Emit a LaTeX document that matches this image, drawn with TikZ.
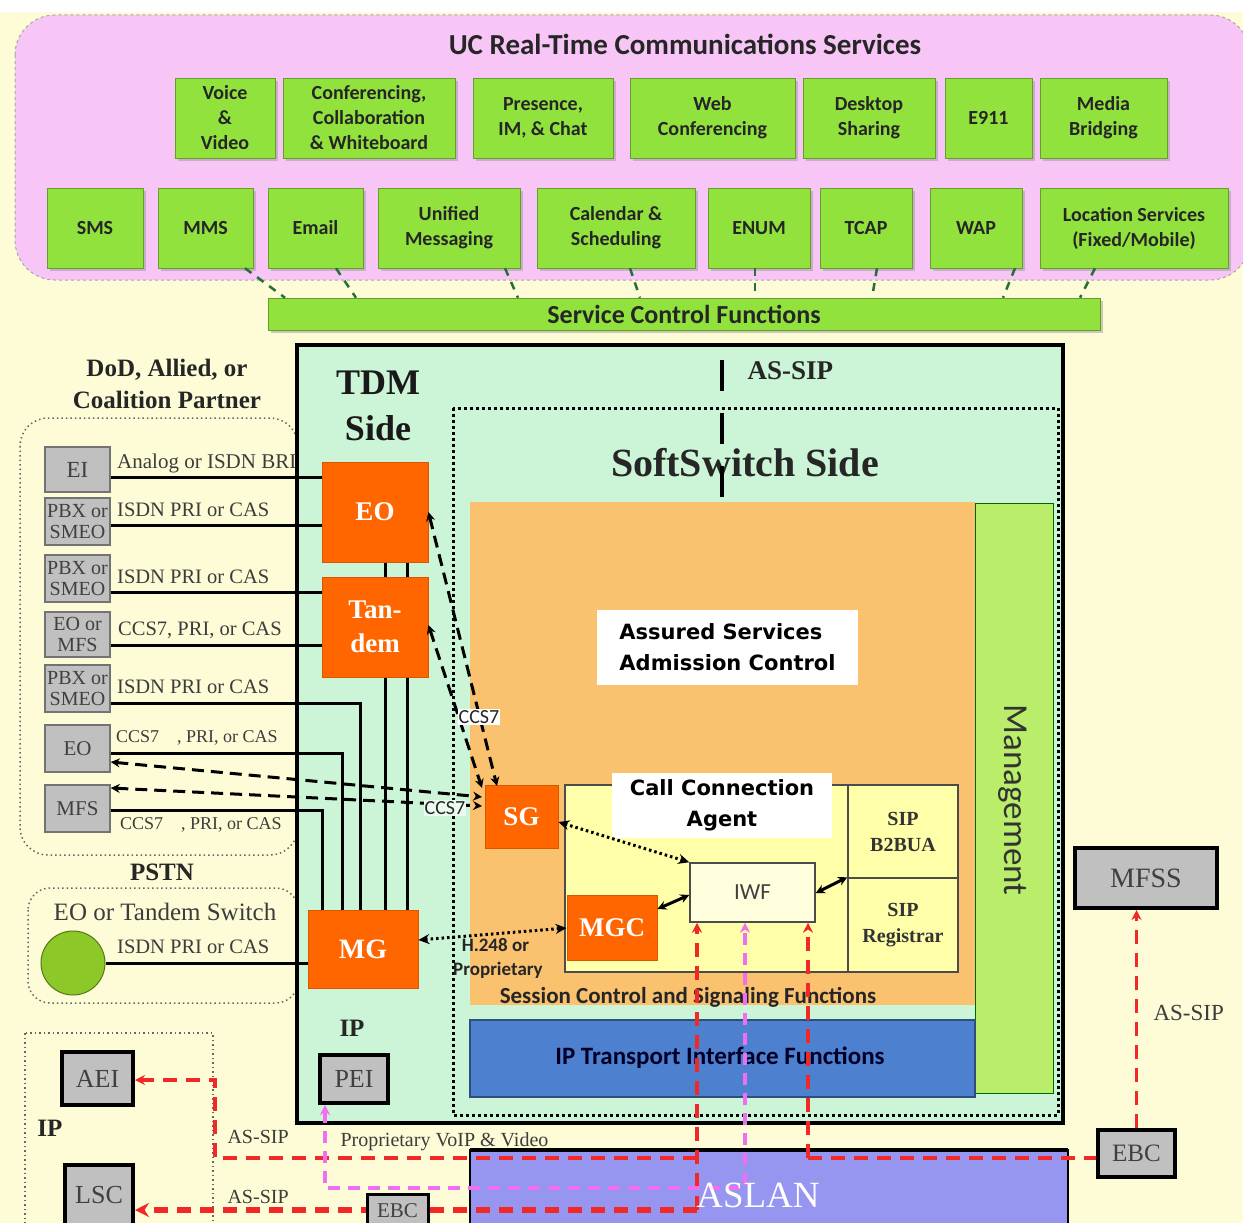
\documentclass[tikz,border=0pt]{standalone}
\usepackage{fontspec}
\setmainfont{Liberation Serif}
\newfontfamily\calfont{Carlito}
\newfontfamily\dejafont{DejaVu Sans}
\usetikzlibrary{shadows,arrows.meta}
\definecolor{creambg}{RGB}{253,252,214}
\definecolor{pinkbg}{RGB}{248,198,246}
\definecolor{lime}{RGB}{146,226,62}
\definecolor{mint}{RGB}{204,244,214}
\definecolor{orangebg}{RGB}{250,193,110}
\definecolor{orangebox}{RGB}{255,102,0}
\definecolor{mgmt}{RGB}{186,238,106}
\definecolor{ccay}{RGB}{255,255,170}
\definecolor{iwfy}{RGB}{255,255,222}
\definecolor{ipblue}{RGB}{78,128,208}
\definecolor{aslanc}{RGB}{150,150,240}
\definecolor{greybox}{RGB}{192,192,192}
\definecolor{reddash}{RGB}{240,40,40}
\definecolor{pinkdash}{RGB}{240,110,240}
\definecolor{dgreen}{RGB}{40,110,60}
\definecolor{labelgrey}{RGB}{60,60,60}
\definecolor{circgreen}{RGB}{140,200,40}
\newcommand\fsz[2]{\fontsize{#1}{#2}\selectfont}
\begin{document}
\begin{tikzpicture}[x=1pt,y=-1pt,
 gbox/.style={draw=lime!70!black,line width=0.5pt,fill=lime,inner sep=0pt,align=center,text=black!85,font=\calfont\bfseries\fsz{20}{25},drop shadow={shadow xshift=3pt,shadow yshift=-3pt,fill=black!40}},
 obox/.style={fill=orangebox,draw=orangebox!85!black,line width=0.8pt,inner sep=0pt,align=center,text=white,font=\bfseries\fsz{27}{34}},
 lbox/.style={fill=greybox,draw=black!55,line width=1.5pt,inner sep=0pt,align=center,text=black!75,font=\fsz{20}{21}},
 kbox/.style={fill=greybox,draw=black,line width=4pt,inner sep=0pt,align=center,text=black!75,font=\fsz{26}{28}},
 wire/.style={line width=3pt,black},
 llabel/.style={anchor=west,inner sep=0pt,text=labelgrey,font=\fsz{20.5}{22}},
 bdash/.style={line width=3pt,dash pattern=on 12pt off 7pt,{Stealth[length=9pt,width=9pt]}-{Stealth[length=9pt,width=9pt]}},
 dotarr/.style={line width=3pt,dash pattern=on 2.5pt off 3pt,{Stealth[length=11pt,width=10pt]}-{Stealth[length=11pt,width=10pt]}},
 sarr/.style={line width=3pt,{Stealth[length=9pt,width=9pt]}-{Stealth[length=9pt,width=9pt]}},
 rdash/.style={line width=3.5pt,reddash,dash pattern=on 14pt off 9pt},
 pdash/.style={line width=3.5pt,pinkdash,dash pattern=on 12pt off 8pt},
 gdash/.style={line width=2.5pt,dgreen,dash pattern=on 8pt off 7pt},
 dotrect/.style={draw=black!60,line width=1.5pt,dash pattern=on 1.5pt off 3pt},
 rtip/.style={-{Stealth[length=10pt,width=10pt]}},
]
\useasboundingbox (0,0) rectangle (1243,1223);
\clip (0,0) rectangle (1243,1223);
\fill[creambg] (0,0) rectangle (1243,1223);
\fill[white] (0,0) rectangle (1243,12);

% ---------- UC services ----------
\filldraw[fill=pinkbg,draw=black!35,line width=1pt,dashed,rounded corners=40pt] (15,15) rectangle (1250,280);
\node[font=\calfont\bfseries\fsz{29}{30},text=black!85] (title) at (685,44) {UC Real-Time Communications Services};

\node[gbox,minimum width=100pt,minimum height=80pt] (voice) at (225,118) {Voice\\\&\\Video};
\node[gbox,minimum width=172pt,minimum height=80pt] (conf) at (369,118) {Conferencing,\\Collaboration\\\& Whiteboard};
\node[gbox,minimum width=140pt,minimum height=80pt] (pres) at (543,118) {Presence,\\IM, \& Chat};
\node[gbox,minimum width=165pt,minimum height=80pt] (web) at (712.5,118) {Web\\Conferencing};
\node[gbox,minimum width=132pt,minimum height=80pt] (desk) at (869,118) {Desktop\\Sharing};
\node[gbox,minimum width=87pt,minimum height=80pt] (e911) at (988.5,118) {E911};
\node[gbox,minimum width=127pt,minimum height=80pt] (media) at (1103.5,118) {Media\\Bridging};

\node[gbox,minimum width=96pt,minimum height=80pt] (sms) at (95,228) {SMS};
\node[gbox,minimum width=95pt,minimum height=80pt] (mms) at (205.5,228) {MMS};
\node[gbox,minimum width=95pt,minimum height=80pt] (email) at (315.5,228) {Email};
\node[gbox,minimum width=142pt,minimum height=80pt] (unified) at (449,228) {Unified\\Messaging};
\node[gbox,minimum width=158pt,minimum height=80pt] (cal) at (616,228) {Calendar \&\\Scheduling};
\node[gbox,minimum width=102pt,minimum height=80pt] (enum) at (759,228) {ENUM};
\node[gbox,minimum width=92pt,minimum height=80pt] (tcap) at (866,228) {TCAP};
\node[gbox,minimum width=92pt,minimum height=80pt] (wap) at (976,228) {WAP};
\node[gbox,minimum width=188pt,minimum height=80pt] (loc) at (1134,228) {Location Services\\(Fixed/Mobile)};

\node[gbox,minimum width=832pt,minimum height=32pt,font=\calfont\bfseries\fsz{26}{28}] (scf) at (684,314) {Service Control Functions};

\draw[gdash] (mms.south -| 245,0) -- (scf.north -| 285,0);
\draw[gdash] (email.south -| 336,0) -- (scf.north -| 356,0);
\draw[gdash] (unified.south -| 505,0) -- (scf.north -| 518,0);
\draw[gdash] (cal.south -| 630,0) -- (scf.north -| 640,0);
\draw[gdash] (enum.south -| 755,0) -- (scf.north -| 755,0);
\draw[gdash] (tcap.south -| 877,0) -- (scf.north -| 872,0);
\draw[gdash] (wap.south -| 1015,0) -- (scf.north -| 1003,0);
\draw[gdash] (loc.south -| 1095,0) -- (scf.north -| 1080,0);

% ---------- left partner area ----------
\node[font=\bfseries\fsz{25}{32},align=center,text=black!85] (dod) at (167,384) {DoD, Allied, or\\Coalition Partner};
\draw[dotrect,rounded corners=28pt] (20,418) rectangle (298,855);
\node[font=\bfseries\fsz{25}{26},text=black!85] (pstn) at (162,872) {PSTN};
\draw[dotrect,rounded corners=22pt] (28,888) rectangle (298,1003);
\node[font=\fsz{25}{26},text=labelgrey] (eotsw) at (165,912) {EO or Tandem Switch};
\draw[dotrect] (25,1033) rectangle (213,1240);
\node[font=\bfseries\fsz{25}{26},text=black!85] (ipleft) at (50,1128) {IP};

% ---------- main box ----------
\draw[line width=4pt,fill=mint] (297,345) rectangle (1063,1123);
\node[font=\bfseries\fsz{36}{46},align=center,text=black!90] (tdm) at (378,406) {TDM\\Side};
\draw[line width=3pt,dash pattern=on 3pt off 3pt] (453,408) rectangle (1058,1115);
\node[font=\bfseries\fsz{40}{42},text=black!85] (ssside) at (745,463) {SoftSwitch Side};
\node[font=\bfseries\fsz{27}{28},text=black!85,anchor=west] (assip) at (744,371) {AS-SIP};

\fill[orangebg] (470,502) rectangle (975,1005);
\filldraw[fill=mgmt,draw=green!40!black,line width=1pt] (975,503) rectangle (1053,1093);
\node[rotate=-90,font=\calfont\fsz{35}{37},text=black!80] (mgmttxt) at (1013,800) {Management};
\filldraw[fill=ipblue,draw=ipblue!60!black,line width=1.5pt] (470,1020) rectangle (975,1097);

\node[fill=white,minimum width=261pt,minimum height=75pt,align=left,inner sep=0pt,font=\dejafont\bfseries\fsz{21}{31}] (asac) at (727.5,647.5) {Assured Services\\Admission Control};

\filldraw[fill=ccay,draw=black!70,line width=1.5pt] (565,785) rectangle (848,972);
\node[draw=black!70,line width=1.5pt,fill=ccay,minimum width=110pt,minimum height=93pt,inner sep=0pt,align=center,font=\bfseries\fsz{20}{26},text=black!80] (b2bua) at (903,831.5) {SIP\\B2BUA};
\node[draw=black!70,line width=1.5pt,fill=ccay,minimum width=110pt,minimum height=94pt,inner sep=0pt,align=center,font=\bfseries\fsz{20}{26},text=black!80] (reg) at (903,925) {SIP\\Registrar};
\node[fill=white,minimum width=220pt,minimum height=65pt,align=center,inner sep=0pt,font=\dejafont\bfseries\fsz{21}{31}] (ccal) at (722,805.5) {Call Connection\\Agent};
\node[draw=black!70,line width=1.5pt,fill=iwfy,minimum width=125pt,minimum height=59pt,inner sep=0pt,font=\calfont\fsz{23}{25},text=black!75] (iwf) at (752.5,892.5) {IWF};
\node[obox,minimum width=90pt,minimum height=65pt] (mgc) at (612,927.5) {MGC};
\node[obox,minimum width=73pt,minimum height=63pt] (sg) at (521.5,816.5) {SG};

\node[font=\calfont\bfseries\fsz{23}{25},text=black!85] (sesstxt) at (688,997) {Session Control and Signaling Functions};
\node[font=\calfont\bfseries\fsz{25}{27},text=black!85!blue] (iptxt) at (720,1058) {IP Transport Interface Functions};

% AS-SIP vertical
\coordinate (asA) at (722,360);
\coordinate (asB) at (722,502);
\draw[line width=4.5pt,dash pattern=on 31pt off 22pt] (asA) -- (asB);

% ---------- left grey boxes ----------
\node[lbox,minimum width=65pt,minimum height=45pt,font=\fsz{23}{24}] (ei) at (77.5,469.5) {EI};
\node[lbox,minimum width=65pt,minimum height=47pt] (pbx1) at (77.5,521.5) {PBX or\\SMEO};
\node[lbox,minimum width=65pt,minimum height=47pt] (pbx2) at (77.5,578.5) {PBX or\\SMEO};
\node[lbox,minimum width=65pt,minimum height=45pt] (eomfs) at (77.5,634.5) {EO or\\MFS};
\node[lbox,minimum width=65pt,minimum height=47pt] (pbx3) at (77.5,688.5) {PBX or\\SMEO};
\node[lbox,minimum width=65pt,minimum height=47pt,font=\fsz{21}{22}] (eol) at (77.5,748.5) {EO};
\node[lbox,minimum width=65pt,minimum height=47pt,font=\fsz{21}{22}] (mfsl) at (77.5,808.5) {MFS};

\node[llabel,font=\fsz{21}{22}] (lab1) at (117,463) {Analog or ISDN BRI};
\node[llabel] (lab2) at (117,510) {ISDN PRI or CAS};
\node[llabel] (lab3) at (117,577) {ISDN PRI or CAS};
\node[llabel] (lab4) at (118,630) {CCS7, PRI, or CAS};
\node[llabel] (lab5) at (117,687) {ISDN PRI or CAS};
\node[llabel,font=\fsz{18}{20}] (lab6) at (116,738) {CCS7\ \ \ \ , PRI, or CAS};
\node[llabel,font=\fsz{18}{20}] (lab7) at (120,825) {CCS7\ \ \ \ , PRI, or CAS};

% wires (behind orange nodes)
\node[obox,minimum width=106pt,minimum height=100pt,draw=none,fill=none] (eo) at (375,512) {};
\node[obox,minimum width=106pt,minimum height=100pt,draw=none,fill=none] (tandem) at (375,627) {};
\node[obox,minimum width=110pt,minimum height=78pt,draw=none,fill=none] (mg) at (363,949) {};
\draw[wire] (ei.east |- 0,477) -- (eo.west |- 0,477);
\draw[wire] (pbx1.east |- 0,525) -- (eo.west |- 0,525);
\draw[wire] (pbx2.east |- 0,592) -- (tandem.west |- 0,592);
\draw[wire] (eomfs.east |- 0,645) -- (tandem.west |- 0,645);
\draw[wire] (pbx3.east |- 0,703) -- (360,703) -- (mg.north -| 360,0);
\draw[wire] (eol.east |- 0,753) -- (342,753) -- (mg.north -| 342,0);
\draw[wire] (mfsl.east |- 0,810) -- (322,810) -- (mg.north -| 322,0);
\draw[wire] (eo.south -| 385,0) -- (tandem.north -| 385,0);
\draw[wire] (tandem.south -| 385,0) -- (mg.north -| 385,0);
\draw[wire] (eo.south -| 407,0) -- (mg.north -| 407,0);
\node[circle,fill=circgreen,draw=circgreen!60!black,line width=1pt,minimum size=64pt,inner sep=0pt] (sw) at (73,963) {};
\draw[wire] (sw.east) -- (mg.west |- sw.east);
\node[llabel] (lab8) at (117,947) {ISDN PRI or CAS};

\node[obox,minimum width=106pt,minimum height=100pt] (eob) at (375,512) {EO};
\node[obox,minimum width=106pt,minimum height=100pt] (tandemb) at (375,627) {Tan-\\dem};
\node[obox,minimum width=110pt,minimum height=78pt,font=\bfseries\fsz{28}{30}] (mgb) at (363,949) {MG};

% signalling arrows
\draw[bdash] (eo.east |- 0,512) -- (497,786);
\draw[bdash] (tandem.east |- 0,625) -- (482,788);
\draw[bdash] (eol.east |- 0,762) -- (482,797);
\draw[bdash] (mfsl.east |- 0,788) -- (482,806);
\node[fill=white,inner sep=1pt,font=\calfont\fsz{20}{22},text=black!85] (ccs7a) at (479,717) {CCS7};
\node[fill=white!60!mint,inner sep=1pt,font=\calfont\fsz{20}{22},text=black!85] (ccs7b) at (445,808) {CCS7};
\draw[dotarr] (sg.east |- 0,822) -- (iwf.north west);
\draw[dotarr] (mg.east |- 0,940) -- (mgc.west |- 0,928);
\node[font=\calfont\bfseries\fsz{19}{24},align=left,anchor=north west,inner sep=0pt,text=black!85] (h248) at (453,938) {\ \ H.248 or\\Proprietary};
\draw[sarr] (mgc.east |- 0,909) -- (iwf.west |- 0,895);
\draw[sarr] (iwf.east |- 0,893) -- (reg.north west);

% ---------- IP area ----------
\node[font=\bfseries\fsz{25}{26},text=black!85] (iptdm) at (352,1028) {IP};
\node[kbox,minimum width=68pt,minimum height=48pt] (pei) at (354,1079) {PEI};
\node[kbox,minimum width=71pt,minimum height=53pt] (aei) at (97.5,1078.5) {AEI};
\node[kbox,minimum width=68pt,minimum height=60pt] (lsc) at (99,1195) {LSC};
\node[kbox,minimum width=142pt,minimum height=60pt,font=\fsz{28}{30}] (mfss) at (1146,878) {MFSS};
\node[kbox,minimum width=77pt,minimum height=47pt,font=\fsz{25}{26}] (ebc2) at (1136.5,1153.5) {EBC};

\filldraw[fill=aslanc,draw=black,line width=2pt] (470,1150) rectangle (1068,1240);
\draw[line width=4.5pt] (470,1150) -- (1068,1150);

% red / pink dashed signalling
\coordinate (rl) at (697,1210);
\coordinate (rm) at (697,1158);
\coordinate (rr) at (808,1158);
\coordinate (ra) at (215,1158);
\coordinate (rb) at (215,1080);
\coordinate (pa) at (325,1188);
\coordinate (pb) at (745,1188);
\draw[rdash,rtip] (rl) -- (iwf.south -| rl);
\draw[rdash,line width=5.5pt,-{Stealth[length=14pt,width=14pt]}] (rl) -- (lsc.east |- rl);
\draw[rdash,rtip] (rm) -- (ra) -- (rb) -- (aei.east |- rb);
\draw[rdash,rtip] (rr) -- (iwf.south -| rr);
\draw[rdash] (rr) -- (ebc2.west |- rr);
\draw[rdash,rtip] (ebc2.north) -- (mfss.south -| ebc2.north);
\draw[pdash,{Stealth[length=10pt,width=10pt]}-{Stealth[length=10pt,width=10pt]}] (pei.south -| pa) -- (pa) -- (pb) -- (iwf.south -| pb);

\node[kbox,line width=3pt,minimum width=61pt,minimum height=34pt,font=\fsz{21}{22}] (ebc1) at (397.5,1211) {EBC};

\node[font=\fsz{20}{22},text=labelgrey,anchor=west] (lab9) at (337,1142) {Proprietary VoIP \& Video};
\node[font=\fsz{20}{22},text=labelgrey,anchor=west] (lab10) at (224,1137) {AS-SIP};
\node[font=\fsz{20}{22},text=labelgrey,anchor=west] (lab11) at (224,1197) {AS-SIP};
\node[font=\fsz{23}{24},text=labelgrey,anchor=west] (lab12) at (1150,1013) {AS-SIP};
\node[text=white,font=\fsz{37}{40}] (aslantxt) at (758,1195) {ASLAN};
\end{tikzpicture}
\end{document}
